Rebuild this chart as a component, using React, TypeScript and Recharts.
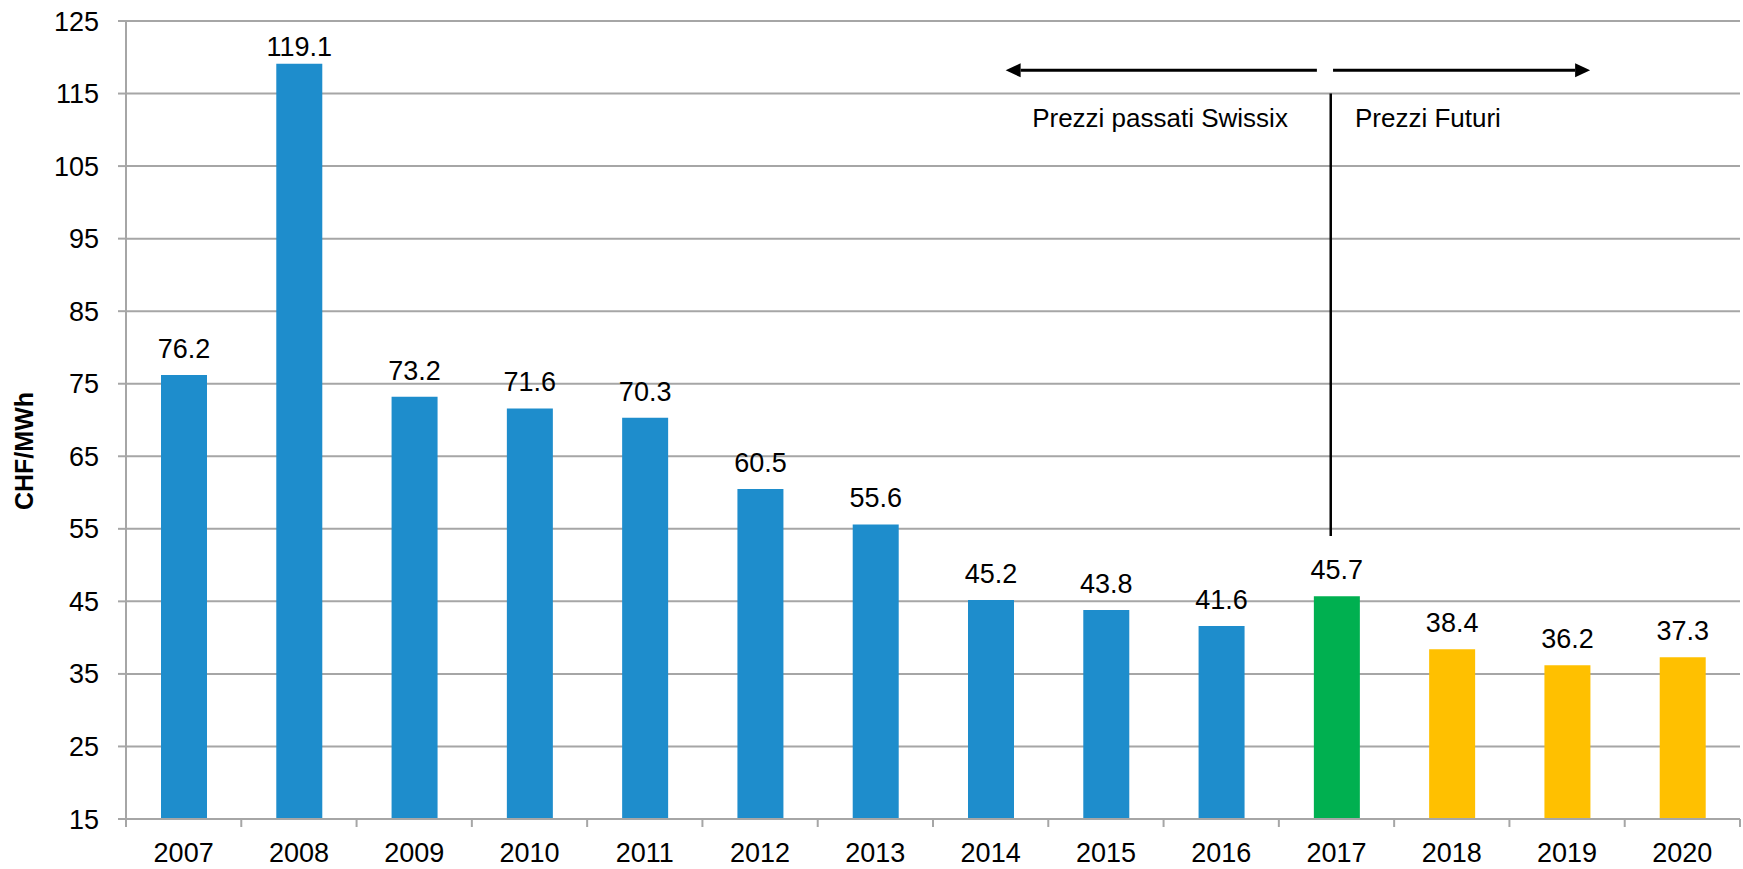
import React from 'react';
import {
  BarChart,
  Bar,
  XAxis,
  YAxis,
  CartesianGrid,
  Cell,
  LabelList,
  ReferenceLine,
  ReferenceDot,
  Label
} from 'recharts';

// values
const years = ['2007', '2008', '2009', '2010', '2011', '2012', '2013', '2014', '2015', '2016', '2017', '2018', '2019', '2020'];
const prices = [76.2, 119.1, 73.2, 71.6, 70.3, 60.5, 55.6, 45.2, 43.8, 41.6, 45.7, 38.4, 36.2, 37.3];
const periods = ['past', 'past', 'past', 'past', 'past', 'past', 'past', 'past', 'past', 'past', 'current', 'future', 'future', 'future'];
const yTicks = [15, 25, 35, 45, 55, 65, 75, 85, 95, 105, 115, 125];

const data = years.map((year, i) => ({ year, price: prices[i], period: periods[i] }));

const periodColors: Record<string, string> = {
  past: '#1E8DCC',
  current: '#00B050',
  future: '#FFC000'
};

const W = 1743;
const H = 869;
const MARGIN = { top: 21, right: 3, bottom: 0, left: 0 };
const Y_AXIS_W = 126;
const X_AXIS_H = 50;
const PLOT_BOTTOM = H - MARGIN.bottom - X_AXIS_H;
const CAT_W = (W - MARGIN.left - MARGIN.right - Y_AXIS_W) / years.length;
const GRID = '#A6A6A6';
const FONT = '"Liberation Sans", Arial, sans-serif';

const CategoryTick = (props: any) => {
  const { x, index, payload } = props;
  return (
    <g>
      <line x1={x - CAT_W / 2} x2={x - CAT_W / 2} y1={PLOT_BOTTOM} y2={PLOT_BOTTOM + 8} stroke={GRID} strokeWidth={2} />
      {index === years.length - 1 && (
        <line x1={x + CAT_W / 2} x2={x + CAT_W / 2} y1={PLOT_BOTTOM} y2={PLOT_BOTTOM + 8} stroke={GRID} strokeWidth={2} />
      )}
      <text x={x} y={PLOT_BOTTOM + 43} textAnchor="middle" fontSize={27} fill="#000">
        {payload.value}
      </text>
    </g>
  );
};

const ValueLabel = (props: any) => {
  const { x, y, width, value } = props;
  const baseline = Math.max(y - 17, MARGIN.top + 35);
  return (
    <text x={x + width / 2} y={baseline} textAnchor="middle" fontSize={27} fill="#000">
      {value}
    </text>
  );
};

// annotation shapes: positions are category centres shifted by a fraction of a category
const Arrow = (fromShift: number, toShift: number) => (props: any) => {
  const { x1, y1, x2, y2 } = props;
  const a = x1 + fromShift * CAT_W;
  const b = x2 + toShift * CAT_W;
  const dir = b > a ? 1 : -1;
  const head = 15;
  return (
    <g>
      <line x1={a} y1={y1} x2={b - dir * head} y2={y2} stroke="#000" strokeWidth={3} />
      <polygon points={`${b},${y2} ${b - dir * head},${y2 - 7} ${b - dir * head},${y2 + 7}`} fill="#000" />
    </g>
  );
};

const Divider = (shift: number) => (props: any) => {
  const { x1, y1, x2, y2 } = props;
  return <line x1={x1 + shift * CAT_W} y1={y1} x2={x2 + shift * CAT_W} y2={y2} stroke="#000" strokeWidth={2.5} />;
};

const NoteText = (text: string, shift: number) => (props: any) => (
  <text x={props.cx + shift * CAT_W} y={props.cy} fontSize={26} fill="#000" textAnchor="start">
    {text}
  </text>
);

const YTitle = (props: any) => {
  const { viewBox } = props;
  const cx = viewBox.x + 24;
  const cy = viewBox.y + viewBox.height / 2 + 31;
  return (
    <text
      x={cx}
      y={cy}
      transform={`rotate(-90 ${cx} ${cy})`}
      textAnchor="middle"
      dominantBaseline="central"
      fontSize={25}
      fontWeight="bold"
      fill="#000"
    >
      CHF/MWh
    </text>
  );
};

export default function App() {
  return (
    <div style={{ position: 'absolute', left: 0, top: 0, width: W, height: H, fontFamily: FONT, background: '#fff' }}>
      <BarChart width={W} height={H} data={data} margin={MARGIN} barSize={46}>
        <CartesianGrid vertical={false} stroke={GRID} strokeWidth={2} />
        <XAxis
          dataKey="year"
          height={X_AXIS_H}
          tickLine={false}
          axisLine={{ stroke: GRID, strokeWidth: 2 }}
          tick={<CategoryTick />}
          interval={0}
        />
        <YAxis
          width={Y_AXIS_W}
          domain={[15, 125]}
          ticks={yTicks}
          interval={0}
          tickSize={8}
          tickMargin={19}
          tickLine={{ stroke: GRID, strokeWidth: 2 }}
          axisLine={{ stroke: GRID, strokeWidth: 2 }}
          tick={{ fontSize: 27, fill: '#000' }}
        >
          <Label content={<YTitle />} />
        </YAxis>
        <Bar dataKey="price" isAnimationActive={false}>
          {data.map((d) => (
            <Cell key={d.year} fill={periodColors[d.period]} />
          ))}
          <LabelList dataKey="price" content={<ValueLabel />} />
        </Bar>
        <ReferenceLine
          segment={[{ x: '2017', y: 54 }, { x: '2017', y: 115 }]}
          shape={Divider(-0.05)}
        />
        <ReferenceLine
          segment={[{ x: '2017', y: 118.2 }, { x: '2014', y: 118.2 }]}
          shape={Arrow(-0.17, 0.13)}
        />
        <ReferenceLine
          segment={[{ x: '2017', y: 118.2 }, { x: '2019', y: 118.2 }]}
          shape={Arrow(-0.03, 0.2)}
        />
        <ReferenceDot x="2014" y={110.4} shape={NoteText('Prezzi passati Swissix', 0.36)} />
        <ReferenceDot x="2017" y={110.4} shape={NoteText('Prezzi Futuri', 0.16)} />
      </BarChart>
    </div>
  );
}
